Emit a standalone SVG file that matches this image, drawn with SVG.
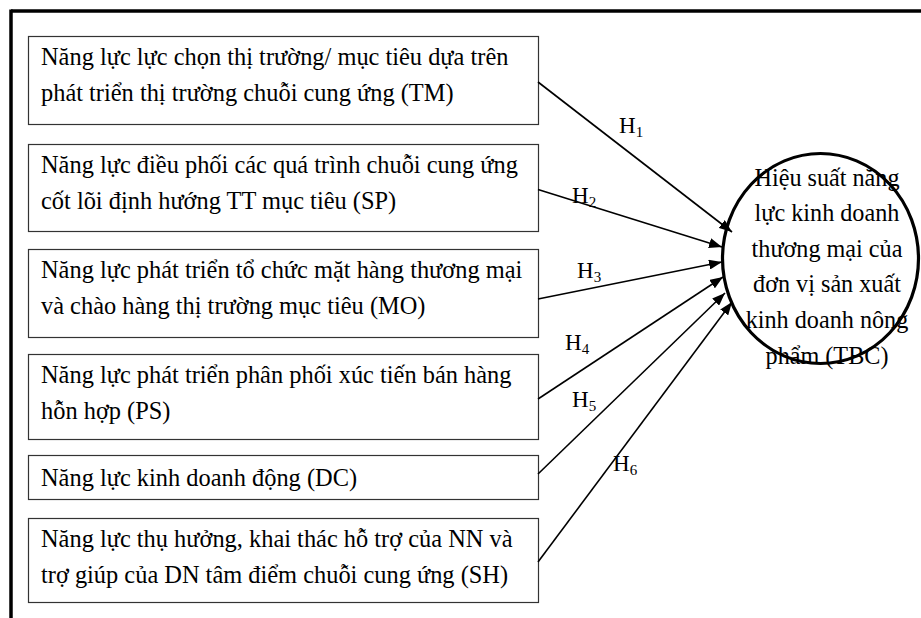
<svg xmlns="http://www.w3.org/2000/svg" width="921" height="618" viewBox="0 0 921 618">
<defs>
<style>
.bx{fill:#fff;stroke:#333;stroke-width:1.2}
.t{font-family:"Liberation Serif","Times New Roman",serif;font-size:24.4px;fill:#000}
.tc{font-family:"Liberation Serif","Times New Roman",serif;font-size:24.2px;fill:#000;text-anchor:middle}
.h{font-family:"Liberation Serif","Times New Roman",serif;font-size:23px;fill:#000}
.sub{font-size:15px}
.c{stroke:#000;stroke-width:1.6;fill:none;marker-end:url(#ah)}
</style>
<marker id="ah" markerUnits="userSpaceOnUse" markerWidth="14" markerHeight="10" refX="13" refY="5" orient="auto">
<path d="M0,0 L13,5 L0,10 z" fill="#000"/>
</marker>
</defs>
<rect width="921" height="618" fill="#fff"/>
<g id="frame" stroke="#000" stroke-width="3.5" fill="none">
<line x1="11" y1="11" x2="921" y2="11"/>
<line x1="11" y1="9.5" x2="11" y2="618"/>
</g>
<g id="node-tm">
<rect class="bx" x="28.5" y="36.5" width="510" height="88"/>
<text class="t" x="41" y="65">Năng lực lực chọn thị trường/ mục tiêu dựa trên</text>
<text class="t" x="41" y="101">phát triển thị trường chuỗi cung ứng (TM)</text>
</g>
<g id="node-sp">
<rect class="bx" x="28.5" y="144.5" width="510" height="87"/>
<text class="t" x="41" y="173">Năng lực điều phối các quá trình chuỗi cung ứng</text>
<text class="t" x="41" y="209">cốt lõi định hướng TT mục tiêu (SP)</text>
</g>
<g id="node-mo">
<rect class="bx" x="28.5" y="249.5" width="510" height="88"/>
<text class="t" x="41" y="278">Năng lực phát triển tổ chức mặt hàng thương mại</text>
<text class="t" x="41" y="314">và chào hàng thị trường mục tiêu (MO)</text>
</g>
<g id="node-ps">
<rect class="bx" x="28.5" y="354.5" width="510" height="85"/>
<text class="t" x="41" y="383">Năng lực phát triển phân phối xúc tiến bán hàng</text>
<text class="t" x="41" y="419">hỗn hợp (PS)</text>
</g>
<g id="node-dc">
<rect class="bx" x="28.5" y="455.5" width="510" height="44"/>
<text class="t" x="41" y="486">Năng lực kinh doanh động (DC)</text>
</g>
<g id="node-sh">
<rect class="bx" x="28.5" y="518.5" width="510" height="84"/>
<text class="t" x="41" y="547">Năng lực thụ hưởng, khai thác hỗ trợ của NN và</text>
<text class="t" x="41" y="583">trợ giúp của DN tâm điểm chuỗi cung ứng (SH)</text>
</g>
<g id="connectors">
<line class="c" x1="538" y1="82" x2="732" y2="232"/>
<line class="c" x1="538" y1="189.5" x2="722" y2="247"/>
<line class="c" x1="538" y1="299" x2="722" y2="262"/>
<line class="c" x1="538" y1="399" x2="723" y2="277"/>
<line class="c" x1="538" y1="474" x2="725" y2="293"/>
<line class="c" x1="538" y1="562" x2="732" y2="302"/>
</g>
<g id="labels">
<text class="h" x="619" y="133">H<tspan class="sub" dy="4">1</tspan></text>
<text class="h" x="572" y="203">H<tspan class="sub" dy="4">2</tspan></text>
<text class="h" x="577" y="278">H<tspan class="sub" dy="4">3</tspan></text>
<text class="h" x="565" y="350">H<tspan class="sub" dy="4">4</tspan></text>
<text class="h" x="572" y="407">H<tspan class="sub" dy="4">5</tspan></text>
<text class="h" x="613" y="471">H<tspan class="sub" dy="4">6</tspan></text>
</g>
<g id="node-tbc">
<text class="tc" x="827" y="185.5">Hiệu suất năng</text>
<text class="tc" x="827" y="221">lực kinh doanh</text>
<text class="tc" x="827" y="256.7">thương mại của</text>
<text class="tc" x="827" y="292.3">đơn vị sản xuất</text>
<text class="tc" x="827" y="328">kinh doanh nông</text>
<text class="tc" x="827" y="363.5">phẩm (TBC)</text>
<ellipse cx="820.5" cy="258.5" rx="98" ry="105" fill="none" stroke="#000" stroke-width="3.2"/>
</g>
</svg>
